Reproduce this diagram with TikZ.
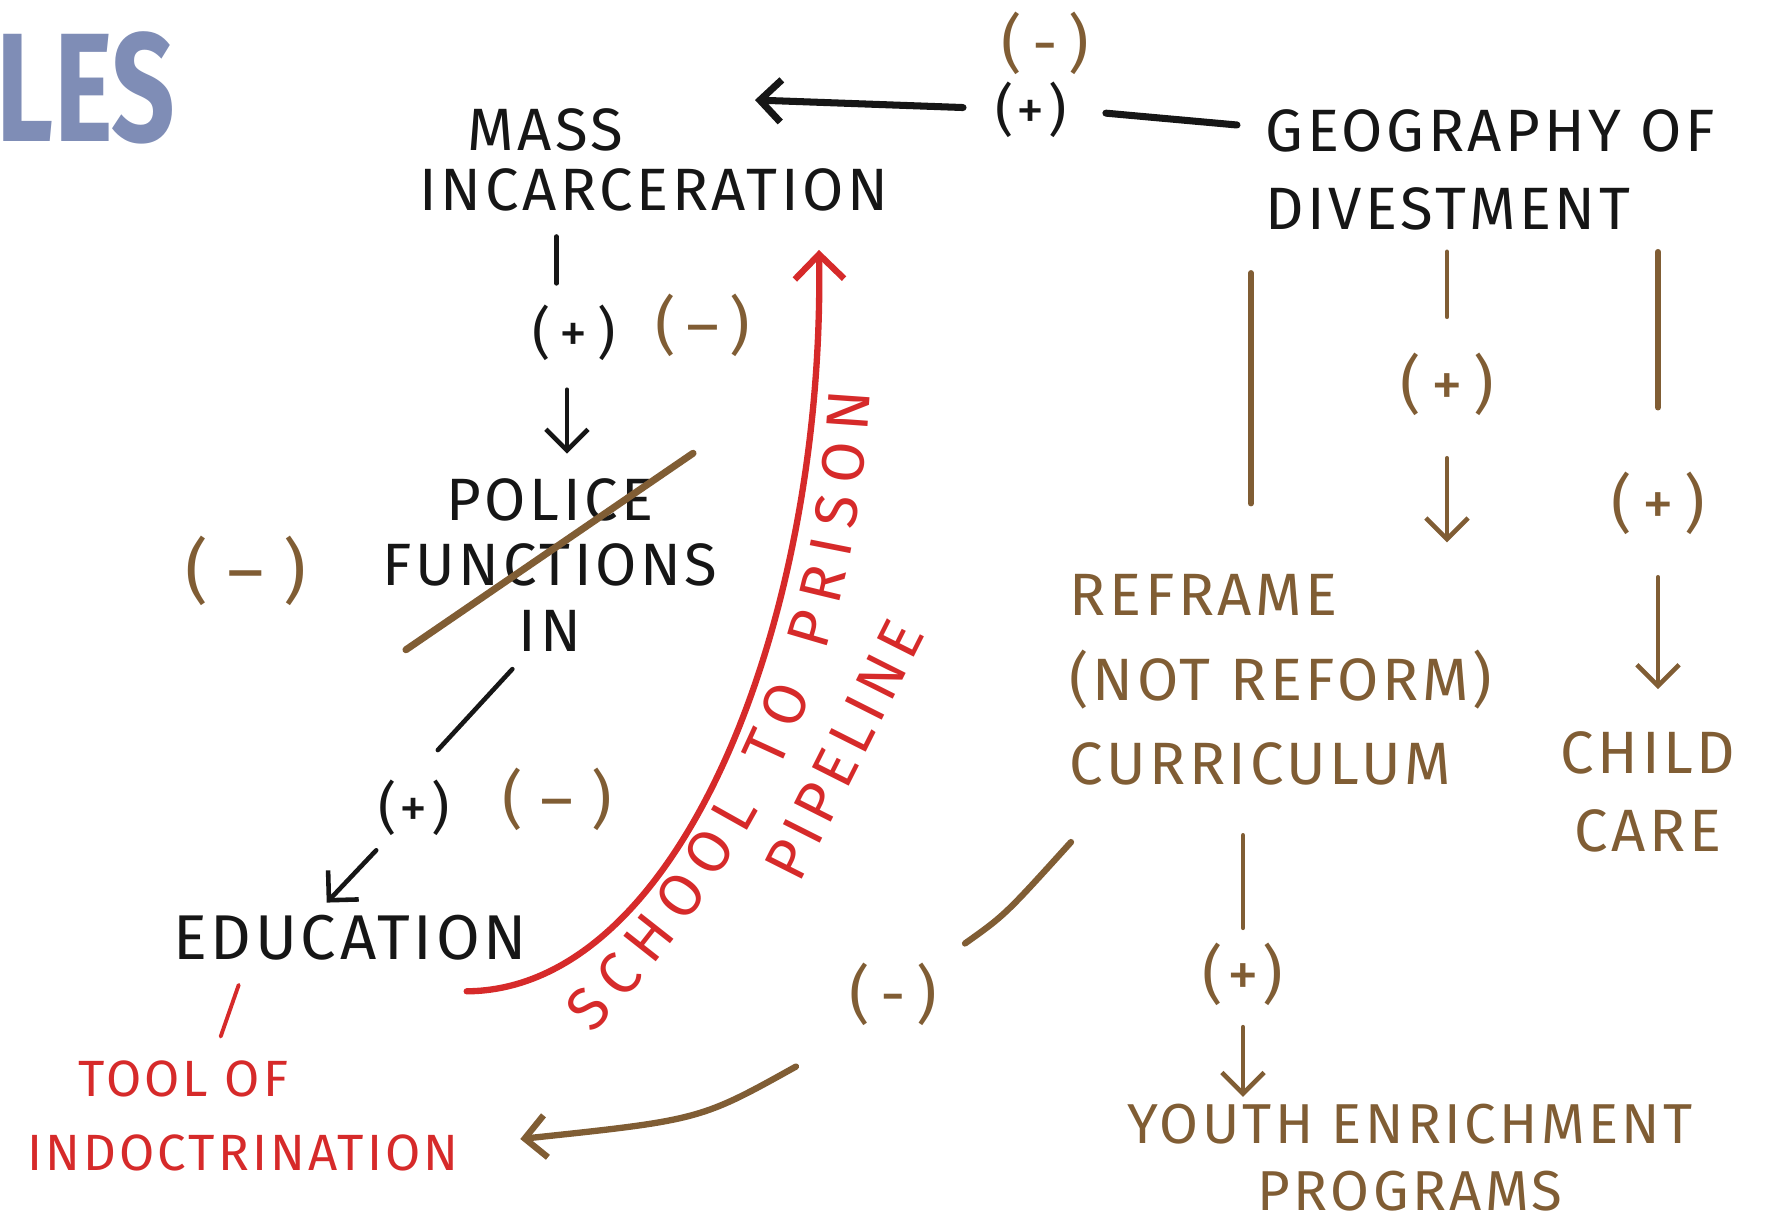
\documentclass[tikz,border=0pt]{standalone}
\usepackage{fontspec}
\setmainfont[LetterSpace=6]{Fira Sans}
\newfontfamily\titlefont[FakeStretch=0.72]{Fira Sans}
\usetikzlibrary{arrows.meta, positioning, calc, decorations.text}
\definecolor{inkblack}{RGB}{22,22,22}
\definecolor{inkbrown}{RGB}{128,93,52}
\definecolor{inkred}{RGB}{214,42,42}
\definecolor{slate}{RGB}{127,141,182}

\begin{document}
\begin{tikzpicture}[x=0.01cm, y=-0.01cm,
  lbl/.style={font=\fontsize{17}{#1}\selectfont, inner sep=2pt, text=inkblack},
  lbl/.default=20,
  sign/.style={font=\fontsize{16}{18}\selectfont, inner sep=1pt, text=inkblack},
  brownsign/.style={sign, text=inkbrown, font=\fontsize{18}{20}\selectfont},
  ink/.style={draw=inkblack, line width=1.3pt, line cap=round},
  inkarr/.style={ink, -{Straight Barb[length=6pt,width=12pt]}},
  brownink/.style={draw=inkbrown, line width=1.3pt, line cap=round},
  brownarr/.style={brownink, -{Straight Barb[length=6pt,width=12pt]}},
  redink/.style={draw=inkred, line width=1.1pt, line cap=round},
]
  \useasboundingbox (0,0) rectangle (1772,1224);
  \clip (0,0) rectangle (1772,1224);

  % --- title fragment, cut at the left edge ---
  \node[anchor=east, inner sep=0pt, text=slate,
    font=\titlefont\fontsize{44}{44}\bfseries\selectfont] (les) at (176,88) {LES};

  % --- black chain ---
  \node[lbl=17, align=left] (mass) at (654,160) {\hspace*{0.8em}MASS\\INCARCERATION};
  \node[lbl=22, align=left, anchor=west] (geo) at (1258,170) {GEOGRAPHY OF\\DIVESTMENT};
  \node[lbl=18.5, align=center] (police) at (550,565) {POLICE\\FUNCTIONS\\IN};
  \node[lbl, font=\fontsize{18}{20}\selectfont] (edu) at (350,938) {EDUCATION};

  % --- red labels ---
  \node[lbl=21, text=inkred, align=left, font=\fontsize{14.5}{21}\selectfont]
    (indoc) at (243,1116) {\hspace*{1em}TOOL OF\\INDOCTRINATION};
  \path[decorate, decoration={text along path, text align={fit to path}, raise=-5pt,
    text={|\fontsize{17}{20}\selectfont\color{inkred}|SCHOOL TO PRISON}}]
    (580,1022) .. controls (751,842) and (839,646) .. (853,391);
  \node[text=inkred, rotate=63.3,
    font=\fontsize{17}{20}\selectfont\addfontfeatures{LetterSpace=10}]
    (pipe) at (844,750) {PIPELINE};

  % --- brown labels ---
  \node[lbl=24, text=inkbrown, align=left, anchor=west] (refr) at (1062,680)
    {REFRAME\\(NOT REFORM)\\CURRICULUM};
  \node[lbl=22, text=inkbrown, align=center] (child) at (1648,792) {CHILD\\CARE};
  \node[lbl=19, text=inkbrown, align=center, font=\fontsize{16}{19}\selectfont]
    (youth) at (1410,1158) {YOUTH ENRICHMENT\\PROGRAMS};

  % --- signs ---
  \node[sign] (plusTop) at (1031,110) {(+)};
  \node[brownsign] (minusTop) at (1045,43) {(\,-\,)};
  \node[sign] (plusA) at (574,333) {(\,+\,)};
  \node[brownsign] (minusA) at (703,325) {(\,–\,)};
  \node[brownsign, font=\fontsize{20}{22}\selectfont] (minusC) at (246,571) {(\;–\;)};
  \node[sign] (plusB) at (414,808) {(+)};
  \node[brownsign] (minusB) at (557,799) {(\;–\;)};
  \node[brownsign] (plusC) at (1447,384) {(\,+\,)};
  \node[brownsign] (plusD) at (1658,503) {(\,+\,)};
  \node[brownsign] (minusD) at (893,994) {(\,-\,)};
  \node[brownsign] (plusE) at (1243,974) {(+)};

  \coordinate (massR) at (755,100);

  % --- geography -> mass incarceration ---
  \draw[ink, line width=2pt, shorten <=6pt, shorten >=10pt]
    ([yshift=-7pt]geo.north west) -- (plusTop.east);
  \draw[inkarr, line width=2pt, shorten <=8pt] (plusTop) -- (massR);

  % --- mass incarceration -> police -> education ---
  \draw[ink, shorten <=5pt, shorten >=5pt]
    ([xshift=-5pt]plusA.north |- mass.south) -- ([xshift=-5pt]plusA.north);
  \draw[inkarr, shorten <=7pt, shorten >=5pt]
    ([xshift=-2pt]plusA.south) -- ([xshift=-2pt]plusA.south |- police.north);
  \draw[brownink, line width=2pt]
    ([shift={(31,-9)}]police.south west) -- ([shift={(-32,-18)}]police.north east);
  \draw[ink, shorten <=4pt, shorten >=10pt] ([xshift=-8pt]police.south) -- (plusB.north);
  \draw[inkarr, shorten <=4pt, shorten >=2pt] ([xshift=-8pt]plusB.south) -- ([xshift=-8pt]edu.north);
  \draw[redink, shorten <=5pt, shorten >=5pt] ([xshift=-30pt]edu.south) -- ([xshift=-8pt]indoc.north);

  % --- school to prison pipeline ---
  \draw[redink, line width=1.8pt, -{Straight Barb[length=7pt,width=14pt]}]
    ([shift={(-68,23)}]edu.south east) .. controls (680,990) and (825,620)
    .. ([shift={(-77,31)}]mass.south east);

  % --- geography -> reframe, child care ---
  \draw[brownink, line width=1.6pt, shorten <=10pt, shorten >=18pt]
    ([xshift=-2pt]geo.south west) -- ([xshift=-2pt]geo.south west |- refr.north);
  \draw[brownink, shorten <=4pt, shorten >=9pt] (plusC |- geo.south) -- (plusC);
  \draw[brownarr, shorten <=11pt, shorten >=7pt] (plusC) -- (plusC |- refr.north);
  \draw[brownink, line width=1.6pt, shorten <=4pt, shorten >=17pt] (plusD |- geo.south) -- (plusD);
  \draw[brownarr, shorten <=11pt, shorten >=10pt] (plusD) -- (plusD |- child.north);

  % --- reframe -> indoctrination, youth programs ---
  \draw[brownink, line width=1.8pt]
    ([shift={(9,49)}]refr.south west) .. controls (1005,915) .. ([shift={(24,-15)}]minusD.north east);
  \draw[brownarr, line width=1.8pt]
    ([shift={(-49,37)}]minusD.south west) .. controls (700,1120) .. ([shift={(54,23)}]indoc.east);
  \draw[brownink, shorten <=12pt, shorten >=3pt] (plusE |- refr.south) -- (plusE);
  \draw[brownarr, shorten <=5pt, shorten >=0pt] (plusE) -- (plusE |- youth.north);

\end{tikzpicture}
\end{document}
